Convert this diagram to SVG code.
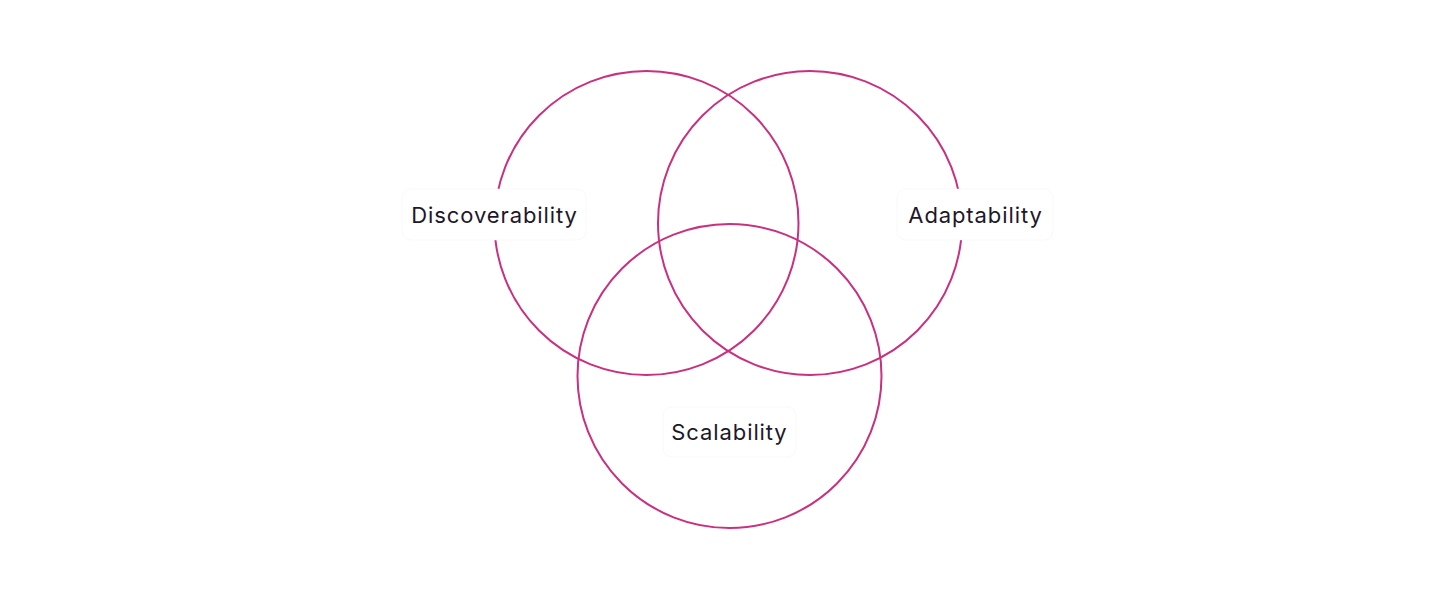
<svg xmlns="http://www.w3.org/2000/svg" width="1440" height="600" viewBox="0 0 1440 600">
<style>
.c{fill:none;stroke:#c9307f;stroke-width:2}
.b{fill:#ffffff;stroke:#f0f0f0;stroke-width:0.5}
.t{font-family:Inter,"Open Sans",sans-serif;font-size:22px;letter-spacing:0.9px;fill:#1e1729;text-anchor:middle;dominant-baseline:central}
</style>
<rect width="1440" height="600" fill="#ffffff"/>
<g id="circles">
<circle class="c" cx="646.5" cy="223" r="152"/>
<circle class="c" cx="810" cy="223" r="152"/>
<circle class="c" cx="729.5" cy="376" r="152"/>
</g>
<g id="discoverability">
<rect class="b" x="402" y="189" width="184" height="51" rx="9"/>
<text class="t" x="494.5" y="215">Discoverability</text>
</g>
<g id="adaptability">
<rect class="b" x="897" y="189" width="156" height="51" rx="9"/>
<text class="t" x="975.5" y="215">Adaptability</text>
</g>
<g id="scalability">
<rect class="b" x="663" y="407" width="133" height="50" rx="9"/>
<text class="t" x="729.5" y="432">Scalability</text>
</g>
</svg>
